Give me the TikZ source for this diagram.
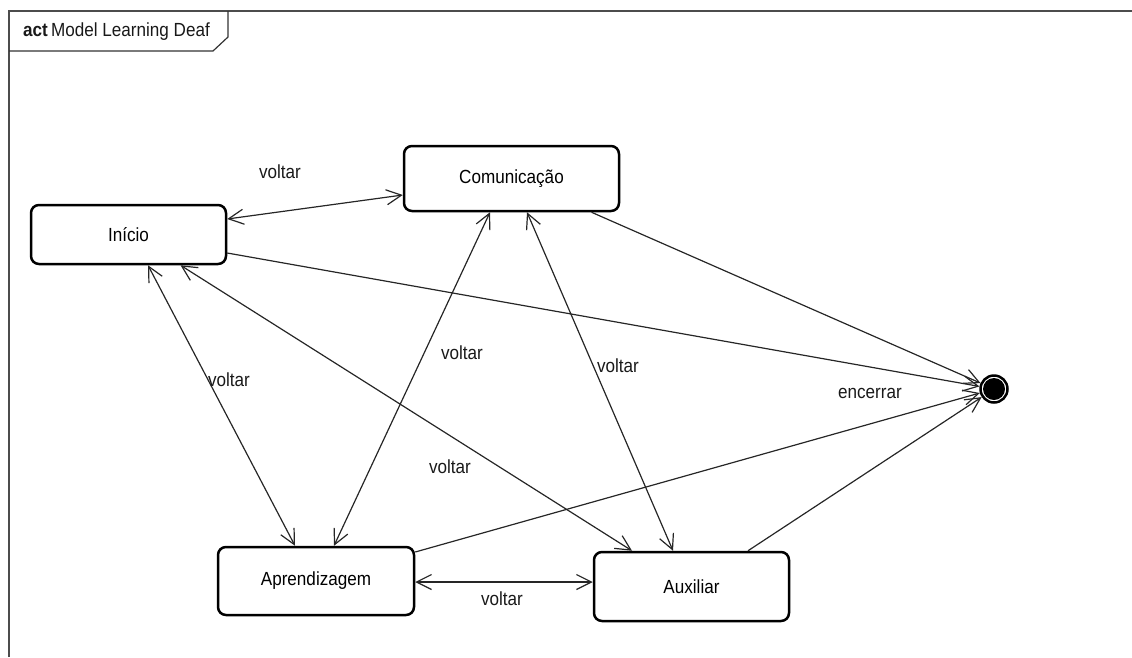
\documentclass[tikz,border=0pt]{standalone}
\usepackage{fontspec}
\setmainfont[FakeStretch=0.9]{Liberation Sans}
\usetikzlibrary{arrows.meta,calc}
\begin{document}
\begin{tikzpicture}[x=1pt,y=-1pt,
  txt/.style={font=\fontsize{19}{22}\selectfont},
  state/.style={txt, draw=black, line width=2.5pt, rounded corners=8pt,
    fill=white, inner sep=0pt},
  barb/.tip={Straight Barb[length=15pt,width=15pt]},
  flow/.style={draw=black!85, line width=1.2pt, -barb},
  twoway/.style={draw=black!85, line width=1.2pt, barb-barb},
  lbl/.style={txt, inner sep=0pt, text=black!90},
  frameline/.style={draw=black!70, line width=2pt},
  tabline/.style={draw=black!80, line width=1.2pt}]
\useasboundingbox (0,0) rectangle (1132,657);

% diagram frame and its name tab
\draw[frameline] (9,657) -- (9,11) -- (1132,11);
\draw[tabline] (9,51) -- (213,51) -- (228,37) -- (228,11);
\node[lbl, anchor=west] (title) at (23,32) {\textbf{act}\,Model Learning Deaf};

% activity states
\node[state, minimum width=195pt, minimum height=59pt] (ini) at (128.5,234.5) {Início};
\node[state, minimum width=215pt, minimum height=65pt] (com) at (511.5,178.5) {Comunicação};
\node[state, minimum width=196pt, minimum height=68pt] (apr) at (316,581) {Aprendizagem};
\node[state, minimum width=195pt, minimum height=69pt] (aux) at (691.5,586.5) {Auxiliar};

% final node
\node[circle, draw=black, line width=2.5pt, fill=white, minimum size=27pt,
  inner sep=0pt] (fin) at (994,389) {};
\fill[black] (fin.center) circle (11pt);

% transitions back and forth
\draw[twoway] ([yshift=15.5pt]ini.east) -- ([yshift=-16.5pt]com.west);
\draw[twoway] ([xshift=19.5pt]ini.south) -- ([xshift=-21pt]apr.north);
\draw[twoway] ([xshift=52pt]ini.south) -- ([xshift=-59.5pt]aux.north);
\draw[twoway] ([xshift=-21.5pt]com.south) -- ([xshift=18pt]apr.north);
\draw[twoway] ([xshift=15.5pt]com.south) -- ([xshift=-18.5pt]aux.north);
\draw[twoway] ([yshift=-1pt]apr.east) -- ([yshift=4.5pt]aux.west);

% transitions to the end
\draw[flow] ([yshift=-18.5pt]ini.east) -- (fin);
\draw[flow] ([xshift=80pt]com.south) -- (fin);
\draw[flow] ([yshift=29pt]apr.east) -- (fin);
\draw[flow] ([xshift=56.5pt]aux.north) -- (fin);

% transition labels
\node[lbl] (l1) at (280,172) {voltar};
\node[lbl] (l2) at (229,380) {voltar};
\node[lbl] (l3) at (462,353) {voltar};
\node[lbl] (l4) at (618,366) {voltar};
\node[lbl] (l5) at (450,467) {voltar};
\node[lbl] (l6) at (502,599) {voltar};
\node[lbl] (l7) at (870,393) {encerrar};
\end{tikzpicture}
\end{document}
